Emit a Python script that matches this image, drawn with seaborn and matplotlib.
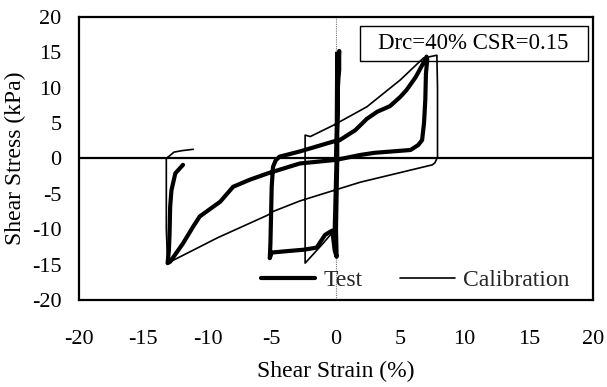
import matplotlib
matplotlib.use("Agg")
import matplotlib.pyplot as plt
import seaborn as sns
import pandas as pd
from matplotlib.lines import Line2D
from matplotlib.patches import Rectangle

# ---- data ----
test_strain = [0.0, 0.1, 0.15, 0.2, 0.25, 0.25,
               0.2, 0.15, 0.1, 0.1, 0.05, 0.0, 0.05,
               -0.1, -0.2, -0.3,
               -0.85, -1.5, -2.5, -3.8, -5.0, -5.15,
               -5.1, -5.05, -5.0, -4.9, -4.7, -4.4,
               -2.8, -0.2, 0.3, 1.5, 2.4, 3.2, 4.2, 5.0, 5.5, 6.2, 6.8, 7.05,
               7.1, 7.0, 6.95, 6.85, 6.7, 6.4, 5.8,
               3.0, 1.9, 0.0, -2.8, -5.3, -6.7, -8.0, -9.0, -10.6, -11.1, -11.9, -12.9, -13.1,
               -13.0, -12.95, -12.9, -12.8, -12.5, -11.9]
test_stress = [0.0, 5.0, 10.0, 11.6, 12.5, 15.2,
               14.0, 11.5, 5.0, 0.0, -5.0, -10.0, -13.9,
               -13.0, -11.5, -10.2,
               -10.8, -12.6, -12.9, -13.1, -13.3, -14.1,
               -12.0, -8.0, -4.0, -1.2, -0.3, 0.25,
               1.0, 2.4, 2.6, 4.0, 5.6, 6.6, 7.4, 8.7, 9.7, 11.5, 13.5, 14.4,
               14.0, 12.0, 8.3, 5.0, 2.6, 1.9, 1.2,
               0.8, 0.5, -0.2, -0.7, -2.1, -3.0, -4.0, -6.1, -8.2, -9.6, -12.0, -14.6, -14.8,
               -13.0, -10.8, -6.8, -4.5, -2.1, -0.9]

cal_strain = [0.0, 0.0, -0.05, -0.2, -1.0, -1.8, -2.4,
              -2.4, -2.4, -2.0, -0.2, 2.4, 5.0, 6.8, 7.85,
              7.9, 7.9, 7.7, 7.5, 1.9, -2.8, -4.9, -5.3, -9.2, -13.1,
              -13.2, -13.2, -12.6, -12.0, -11.1]
cal_stress = [0.0, 15.0, 0.0, -10.3, -12.0, -13.6, -14.8,
              -5.0, 3.3, 3.1, 4.7, 7.3, 11.1, 14.2, 14.6,
              10.0, 0.2, -0.6, -0.9, -3.35, -6.0, -7.5, -8.0, -11.2, -14.8,
              -10.0, 0.0, 0.9, 1.1, 1.3]

ticks = [-20, -15, -10, -5, 0, 5, 10, 15, 20]
annotation = "Drc=40% CSR=0.15"
series_names = ["Test", "Calibration"]

test_df = pd.DataFrame({"strain": test_strain, "stress": test_stress})
cal_df = pd.DataFrame({"strain": cal_strain, "stress": cal_stress})

# ---- styling ----
sns.set_theme(style="white")
plt.rcParams["font.family"] = ["Liberation Serif", "DejaVu Serif"]
plt.rcParams["axes.unicode_minus"] = False

fig = plt.figure(figsize=(6.07, 3.87), dpi=100)
ax = fig.add_axes([0.130, 0.225, 0.847, 0.731])

ax.axhline(0, color="black", lw=1.6, zorder=1)
ax.axvline(0, color="#777777", lw=0.8, ls=(0, (1, 1)), zorder=1)

# annotation box (under the curves)
ax.add_patch(Rectangle((0.547, 0.845), 0.443, 0.123, transform=ax.transAxes,
                       fc="white", ec="black", lw=1.0, zorder=1.5))
ax.text(0.7665, 0.906, annotation, transform=ax.transAxes, ha="center", va="center",
        fontsize=16.5, color="black", zorder=1.6)

sns.lineplot(data=cal_df, x="strain", y="stress", sort=False, estimator=None,
             color="black", lw=1.2, ax=ax, zorder=2)
sns.lineplot(data=test_df, x="strain", y="stress", sort=False, estimator=None,
             color="black", lw=3.0, ax=ax, zorder=3)

ax.set_xlim(-20, 20)
ax.set_ylim(-20, 20)
ax.set_xticks(ticks)
ax.set_yticks(ticks)
ax.set_xticklabels([str(t) for t in ticks])
ax.set_yticklabels([str(t) for t in ticks])
ax.tick_params(axis="both", direction="inout", length=7, width=0.8, color="#555555",
               labelsize=16, labelcolor="black")
ax.tick_params(axis="x", pad=18)
ax.tick_params(axis="y", pad=9)
for s in ax.spines.values():
    s.set_visible(True)
    s.set_color("black")
    s.set_linewidth(1.6)

ax.set_xlabel("Shear Strain (%)", fontsize=17, labelpad=9, color="black")
ax.set_ylabel("Shear Stress (kPa)", fontsize=17, labelpad=4, color="black")

handles = [Line2D([], [], color="black", lw=3.0), Line2D([], [], color="black", lw=1.2)]
ax.legend(handles, series_names, loc="lower right", bbox_to_anchor=(0.995, -0.045),
          ncol=2, frameon=False, fontsize=17, handlelength=2.3, handletextpad=0.35,
          columnspacing=1.6)

fig.savefig("out.png", dpi=100)
